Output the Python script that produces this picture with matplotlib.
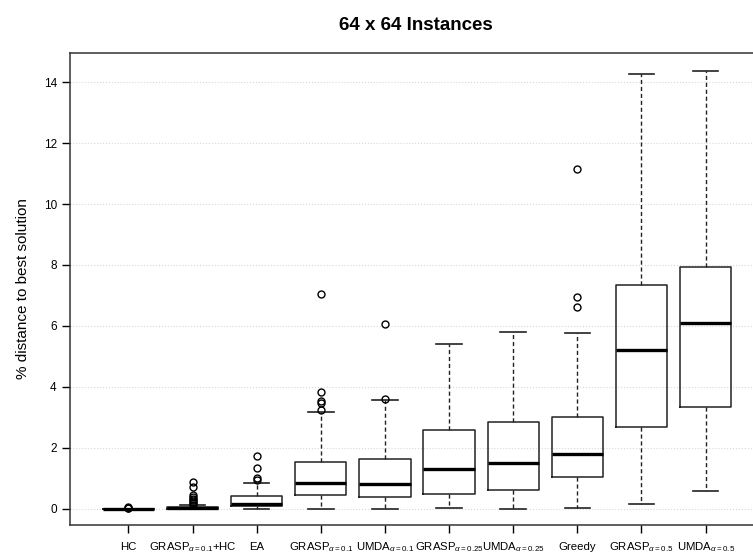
import matplotlib
matplotlib.use("Agg")
import matplotlib.pyplot as plt

plt.rcParams['font.family'] = ['Liberation Sans', 'DejaVu Sans']
plt.rcParams['mathtext.fontset'] = 'custom'
plt.rcParams['mathtext.rm'] = 'Liberation Sans'
plt.rcParams['mathtext.it'] = 'Liberation Sans:italic'
plt.rcParams['mathtext.bf'] = 'Liberation Sans:bold'

labels = ['HC', r'GRASP$_{\alpha=0.1}$+HC', 'EA', r'GRASP$_{\alpha=0.1}$',
          r'UMDA$_{\alpha=0.1}$', r'GRASP$_{\alpha=0.25}$', r'UMDA$_{\alpha=0.25}$',
          'Greedy', r'GRASP$_{\alpha=0.5}$', r'UMDA$_{\alpha=0.5}$']

whislo = [0.0, 0.0, 0.0, 0.0, 0.0, 0.03, 0.0, 0.01, 0.15, 0.58]
q1 = [0.0, 0.0, 0.07, 0.44, 0.37, 0.49, 0.62, 1.02, 2.69, 3.33]
med = [0.0, 0.02, 0.16, 0.84, 0.79, 1.30, 1.51, 1.79, 5.21, 6.10]
q3 = [0.0, 0.05, 0.41, 1.54, 1.64, 2.58, 2.85, 3.02, 7.34, 7.92]
whishi = [0.0, 0.11, 0.85, 3.17, 3.55, 5.42, 5.79, 5.78, 14.27, 14.38]
fliers = [
    [0.02, 0.03, 0.04],
    [0.12, 0.17, 0.22, 0.27, 0.32, 0.38, 0.45, 0.70, 0.88],
    [0.94, 1.00, 1.33, 1.74],
    [3.25, 3.48, 3.54, 3.82, 7.03],
    [3.61, 6.07],
    [],
    [],
    [6.62, 6.96, 11.15],
    [],
    [],
]

stats = []
for i in range(len(labels)):
    stats.append(dict(label=labels[i], whislo=whislo[i], q1=q1[i], med=med[i],
                      q3=q3[i], whishi=whishi[i], fliers=fliers[i]))

fig = plt.figure(figsize=(7.53, 5.55), dpi=100)
ax = fig.add_axes([70 / 753, 30 / 555, 694 / 753, 472 / 555])

ax.bxp(stats, positions=range(1, 11), widths=0.8, capwidths=0.4,
       boxprops=dict(color='#222222', linewidth=1.1),
       medianprops=dict(color='black', linewidth=2.4),
       whiskerprops=dict(color='#222222', linewidth=1.0, linestyle=(0, (3, 2))),
       capprops=dict(color='#222222', linewidth=1.2),
       flierprops=dict(marker='o', markerfacecolor='none', markeredgecolor='black',
                       markersize=5, markeredgewidth=1.0))

ax.set_xlim(0.09, 10.91)
ax.set_ylim(-0.54, 14.96)
ax.set_yticks([0, 2, 4, 6, 8, 10, 12, 14])
ax.yaxis.grid(True, linestyle=':', color='#d8d8d8', linewidth=0.8)
ax.set_axisbelow(True)

ax.tick_params(axis='x', direction='out', length=6, width=1, labelsize=8.2, pad=12)
ax.tick_params(axis='y', direction='out', length=5.5, width=1, labelsize=8.5, pad=4)
for lab in ax.get_xticklabels():
    lab.set_verticalalignment('baseline')
for s in ax.spines.values():
    s.set_color('#333333')
    s.set_linewidth(1.1)

ax.set_ylabel('% distance to best solution', fontsize=11, labelpad=10)
fig.text(416 / 753, 1 - 25 / 555, '64 x 64 Instances', ha='center', va='center',
         fontsize=13.5, fontweight='bold')

fig.savefig('out.png', dpi=100)
